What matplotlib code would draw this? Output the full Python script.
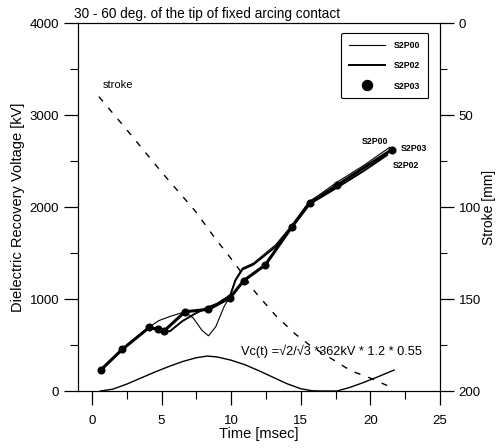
import matplotlib
matplotlib.use("Agg")
import matplotlib.pyplot as plt
from matplotlib.ticker import MultipleLocator

plt.rcParams['font.family'] = ['Liberation Sans', 'DejaVu Sans']

# ---- data ----
t_p03 = [0.63, 2.18, 4.12, 4.72, 5.18, 6.69, 8.37, 9.93, 10.89, 12.45, 14.37, 15.64, 17.6, 21.56]
v_p03 = [228, 453, 692, 670, 652, 862, 888, 1014, 1199, 1370, 1786, 2040, 2237, 2625]

t_p00 = [0.63, 2.18, 4.12, 4.8, 5.6, 6.69, 7.3, 7.9, 8.37, 8.9, 9.5, 9.93, 10.3, 10.8, 11.6, 13.2, 14.4, 15.6, 16.4, 17.6, 19.5, 21.4]
v_p00 = [228, 453, 695, 765, 810, 862, 790, 660, 600, 700, 920, 1030, 1210, 1335, 1390, 1590, 1810, 2060, 2140, 2270, 2450, 2650]

t_p02 = [0.63, 2.18, 4.12, 4.7, 5.2, 5.6, 6.5, 7.4, 8.25, 9.0, 9.93, 10.3, 10.8, 11.6, 13.2, 14.4, 15.6, 17.6, 19.5, 21.2]
v_p02 = [228, 453, 690, 665, 650, 650, 760, 840, 905, 950, 1040, 1200, 1320, 1375, 1570, 1790, 2030, 2210, 2390, 2565]

t_vc = [0.6, 1.5, 2.5, 3.5, 4.5, 5.5, 6.5, 7.5, 8.3, 9.0, 10.0, 11.0, 12.0, 13.0, 14.0, 15.0, 15.8, 16.5, 17.6, 18.5, 19.5, 20.5, 21.7]
v_vc = [0, 20, 75, 140, 205, 265, 320, 362, 380, 370, 335, 285, 220, 150, 80, 25, 3, 0, 0, 38, 92, 152, 228]

t_stroke = [0.5, 2.5, 5.0, 7.4, 8.85, 10.3, 11.7, 13.2, 14.6, 15.8, 16.9, 18.6, 20.0, 21.2]
s_stroke = [40, 58, 81, 102, 117, 131, 146, 159, 169, 176, 181, 189, 193, 197]

fig = plt.figure(figsize=(5.0, 4.48), dpi=100)
ax = fig.add_axes([0.156, 0.1272, 0.724, 0.8214])

ax.plot(t_p00, v_p00, color='black', lw=0.8, label='S2P00', zorder=3)
ax.plot(t_p02, v_p02, color='black', lw=1.4, label='S2P02', zorder=3)
ax.plot(t_p03, v_p03, color='black', lw=2.2, zorder=4)
ax.plot(t_p03, v_p03, 'o', color='black', ms=4.8, label='S2P03', zorder=5)
ax.plot(t_vc, v_vc, color='black', lw=1.0, zorder=3)

ax.set_xlim(-1, 25)
ax.set_ylim(0, 4000)
ax.xaxis.set_major_locator(MultipleLocator(5))
ax.xaxis.set_minor_locator(MultipleLocator(2.5))
ax.yaxis.set_major_locator(MultipleLocator(1000))
ax.yaxis.set_minor_locator(MultipleLocator(500))
ax.tick_params(axis='both', which='major', direction='out', length=10, width=0.9, labelsize=9.5)
ax.tick_params(axis='x', which='major', pad=7)
ax.tick_params(axis='both', which='minor', direction='out', length=6, width=0.8)
ax.set_xlabel('Time [msec]', fontsize=10.5, labelpad=0)
ax.set_ylabel('Dielectric Recovery Voltage [kV]', fontsize=10.5, labelpad=3)

ax2 = ax.twinx()
ax2.plot(t_stroke, s_stroke, color='black', lw=1.0, ls=(0, (4.5, 6)), zorder=2)
ax2.set_ylim(200, 0)
ax2.yaxis.set_major_locator(MultipleLocator(50))
ax2.yaxis.set_minor_locator(MultipleLocator(25))
ax2.tick_params(axis='y', which='major', direction='out', length=10, width=0.9, labelsize=9.5)
ax2.tick_params(axis='y', which='minor', direction='out', length=5, width=0.8)
ax2.set_ylabel('Stroke [mm]', fontsize=10, labelpad=1)

ax.text(-0.01, 1.005, '30 - 60 deg. of the tip of fixed arcing contact',
        transform=ax.transAxes, fontsize=9.8, ha='left', va='bottom')
ax.text(0.75, 3270, 'stroke', fontsize=8, ha='left', va='bottom')
ax.text(10.7, 360, 'Vc(t) =\u221a2/\u221a3 *362kV * 1.2 * 0.55', fontsize=9.2, ha='left', va='bottom')
ax.text(21.3, 2665, 'S2P00', fontsize=6.3, fontweight='bold', ha='right', va='bottom')
ax.text(22.2, 2640, 'S2P03', fontsize=6.3, fontweight='bold', ha='left', va='center')
ax.text(21.6, 2450, 'S2P02', fontsize=6.3, fontweight='bold', ha='left', va='center')

leg = ax.legend(loc='upper right', bbox_to_anchor=(0.98, 0.985), fontsize=6.3,
                handlelength=4.2, fancybox=True, framealpha=1, edgecolor='black',
                borderpad=0.9, labelspacing=1.3, handletextpad=1.0, markerscale=1.5)
leg.get_frame().set_linewidth(0.8)
for txt in leg.get_texts():
    txt.set_fontweight('bold')

fig.savefig('out.png', dpi=100)
